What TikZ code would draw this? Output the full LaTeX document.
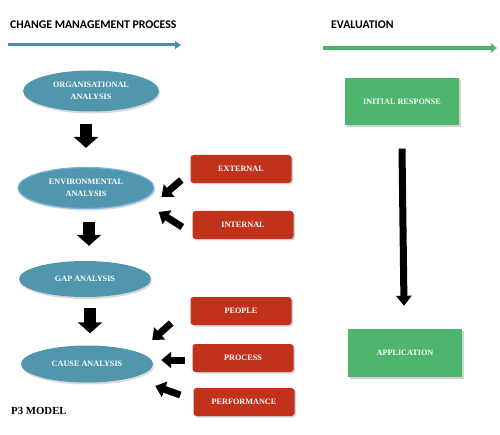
\documentclass[tikz,border=0pt]{standalone}
\usepackage{fontspec}
\setmainfont{Liberation Serif}
\newfontfamily\headfont{Carlito}
\usetikzlibrary{shapes.geometric,arrows.meta,shadows}
\definecolor{cmpblue}{RGB}{80,150,172}
\definecolor{cmpline}{RGB}{74,143,167}
\definecolor{rimblue}{RGB}{120,175,225}
\definecolor{factorred}{RGB}{192,50,28}
\definecolor{evalgreen}{RGB}{77,181,108}
\begin{document}
\begin{tikzpicture}[x=1pt, y=-1pt, >=latex,
	header/.style={anchor=west, inner sep=0pt, font=\headfont\bfseries\fontsize{11.8}{14}\selectfont},
	stage/.style={ellipse, fill=cmpblue, minimum width=136pt, minimum height=41pt, inner sep=0pt,
		text=white, align=center, font=\bfseries\fontsize{8.2}{11.5}\selectfont,
		drop shadow={shadow xshift=1pt, shadow yshift=-2pt, opacity=.3}},
	factor/.style={rectangle, rounded corners=3pt, fill=factorred, minimum width=101pt, minimum height=28pt,
		text=white, font=\bfseries\fontsize{8.2}{10}\selectfont,
		drop shadow={shadow xshift=1.5pt, shadow yshift=-1.5pt, opacity=.35}},
	evalbox/.style={rectangle, fill=evalgreen, minimum width=114pt, minimum height=47pt,
		text=white, font=\bfseries\fontsize{8.2}{10}\selectfont,
		drop shadow={shadow xshift=1.5pt, shadow yshift=-1.5pt, opacity=.35}},
	blockarrow/.style={line width=12pt, -{Triangle[width=24pt,length=11pt]}},
	sidearrow/.style={line width=7pt, -{Triangle[width=16pt,length=10pt]}}
]
	\useasboundingbox (0,0) rectangle (500,435);
	% headings
	\node[header] (cmptitle) at (10,25) {CHANGE MANAGEMENT PROCESS};
	\node[header] (evaltitle) at (331,25) {EVALUATION};
	\node[anchor=west, inner sep=0pt, font=\bfseries\fontsize{10.8}{12}\selectfont] (model) at (11,411) {P3 MODEL};
	\path
		(8,45) coordinate (cmpL)
		(181,45) coordinate (cmpR)
		(323,48) coordinate (evalL)
		(497,48) coordinate (evalR)
	;
	\draw[cmpline, line width=3pt, -{Triangle[width=8pt,length=6pt]}] (cmpL) -- (cmpR);
	\draw[evalgreen, line width=3.5pt, -{Triangle[width=9pt,length=6pt]}] (evalL) -- (evalR);
	% process stages
	\node[stage] (org) at (91,91) {ORGANISATIONAL\\ANALYSIS};
	\node[stage, draw=rimblue, line width=1.2pt] (env) at (86,188) {ENVIRONMENTAL\\ANALYSIS};
	\node[stage, minimum width=132pt, minimum height=36pt] (gap) at (85,279) {GAP ANALYSIS};
	\node[stage, minimum width=132pt, minimum height=37pt] (cause) at (87,364) {CAUSE ANALYSIS};
	% factors
	\node[factor] (external) at (241,169) {EXTERNAL};
	\node[factor] (internal) at (243,225) {INTERNAL};
	\node[factor] (people) at (241,311) {PEOPLE};
	\node[factor] (process) at (243,358) {PROCESS};
	\node[factor] (performance) at (244,402) {PERFORMANCE};
	% evaluation
	\node[evalbox] (initial) at (402,102) {INITIAL RESPONSE};
	\node[evalbox, minimum height=48pt] (application) at (405,353) {APPLICATION};
	% arrows
	\draw[blockarrow] ([yshift=-12pt]org.south -| env) -- ([yshift=19pt]env.north);
	\draw[blockarrow] ([xshift=3pt,yshift=-13pt]env.south) -- ([xshift=4pt,yshift=15pt]gap.north);
	\draw[blockarrow] ([xshift=5pt,yshift=-11pt]gap.south) -- ([xshift=3pt,yshift=12pt]cause.north);
	\draw[sidearrow] ([xshift=-9pt,yshift=-11pt]external.west) -- ([xshift=7pt,yshift=-9pt]env.east);
	\draw[sidearrow] ([xshift=-10pt,yshift=-2pt]internal.west) -- ([xshift=4pt,yshift=-24pt]env.east);
	\draw[sidearrow] ([xshift=-19pt,yshift=-12pt]people.west) -- ([xshift=-1pt,yshift=24pt]cause.east);
	\draw[sidearrow] ([xshift=-7pt,yshift=-2pt]process.west) -- ([xshift=8pt,yshift=4pt]cause.east);
	\draw[sidearrow] ([xshift=-13pt,yshift=7pt]performance.west) -- ([xshift=2pt,yshift=-22pt]cause.east);
	\draw[line width=7pt, -{Triangle[width=15pt,length=10pt]}] ([yshift=-23pt]initial.south) -- ([xshift=-1pt,yshift=23pt]application.north);
\end{tikzpicture}
\end{document}
